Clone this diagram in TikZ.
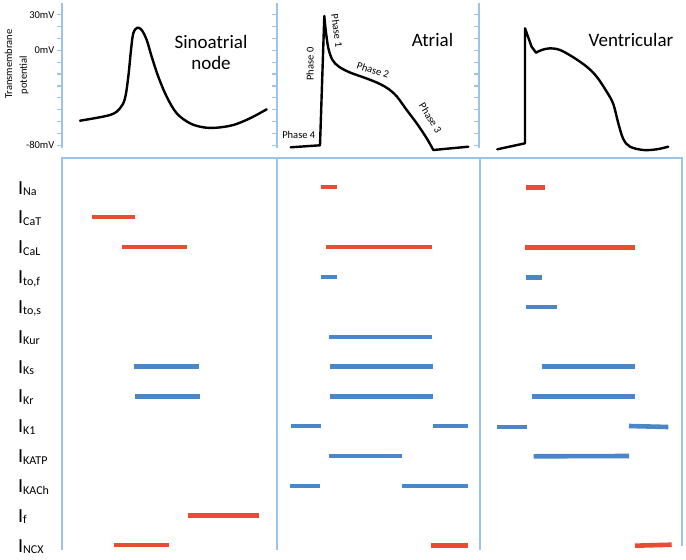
\documentclass[tikz,border=0pt]{standalone}
\usepackage{fontspec}
\setmainfont{Carlito}
\definecolor{axisblue}{RGB}{157,195,230}
\definecolor{barred}{RGB}{232,76,50}
\definecolor{barblue}{RGB}{74,134,200}
\newcommand\ionlab[1]{{\fontsize{20}{22}\selectfont I}\raisebox{-1.5pt}{\fontsize{12}{13}\selectfont #1}}
\begin{document}
\begin{tikzpicture}[x=1pt,y=-1pt,
 axisline/.style={draw=axisblue,line width=1.3pt},
 apcurve/.style={draw=black,line width=2.4pt,line join=round,line cap=round},
 redbar/.style={draw=barred,line width=4.6pt},
 bluebar/.style={draw=barblue,line width=4.6pt},
 titletext/.style={font=\fontsize{19}{22}\selectfont,anchor=base,inner sep=0pt},
 mvlab/.style={font=\fontsize{10.5}{12}\selectfont,anchor=east,inner sep=0pt},
 phaselab/.style={font=\fontsize{10.5}{12}\selectfont,inner sep=0pt},
 ylab/.style={font=\fontsize{10.5}{12}\selectfont,inner sep=0pt,rotate=90},
 curlab/.style={anchor=base west,inner sep=0pt}]
\useasboundingbox (0,0) rectangle (686,560);

% top axes with ticks
\foreach \ax in {62,277,479}{
  \draw[axisline] (\ax,3) -- (\ax,148);
  \foreach \k in {0,...,11}{
    \draw[axisline] (\ax-5,14.7+11.87*\k) -- (\ax,14.7+11.87*\k);
  }
}
\node[mvlab] (l30) at (54.5,15) {30mV};
\node[mvlab] (l0) at (54.5,50.6) {0mV};
\node[mvlab] (l80) at (54.5,145.3) {-80mV};
\node[ylab] (ylab1) at (8.5,64) {Transmembrane};
\node[ylab] (ylab2) at (24,75) {potential};

% bottom panel boxes
\draw[axisline] (62,550) -- (62,158) -- (682,158) -- (682,546);
\draw[axisline] (277,158) -- (277,550);
\draw[axisline] (480,158) -- (480,550);

% titles
\node[titletext] (tsa1) at (211,48.3) {Sinoatrial};
\node[titletext] (tsa2) at (211,69) {node};
\node[titletext] (tat) at (432.5,46) {Atrial};
\node[titletext] (tve) at (631,46.5) {Ventricular};

% sinoatrial AP
\draw[apcurve] plot[smooth,tension=0.55] coordinates {(80,120.7) (110,115) (120,108.3) (125,98.3) (128.3,76.7) (131,50) (133.3,33.3) (137.3,27.7) (141.7,30) (146.7,40) (151.7,56.7) (158.3,76.7) (166.7,96.7) (176.7,113.3) (190,123.3) (203.3,127.3) (216.7,127.7) (233.3,125) (250,118.3) (266.7,109.3)};

% atrial AP
\draw[apcurve] (290.7,147.3) -- (320,145.3) -- (324.3,16) -- plot[smooth,tension=0.55] coordinates {(324.3,16) (325.7,30) (328.3,48) (332.5,60) (339,66.7) (350,72.5) (366.7,78.5) (380,84) (389,89.3) (397,96.7) (406.7,110) (416.7,123.3) (426.7,138.3) (433.3,150)} -- (468.3,146.7);

% ventricular AP
\draw[apcurve] (497.3,149.3) -- (525,143.3) -- (525,28.3) -- (531.5,46.5) -- (536,52.7) -- plot[smooth,tension=0.55] coordinates {(536,52.7) (541.7,50) (550,48.3) (560,50) (573.3,57.3) (586.7,66.7) (596.7,76.7) (606.7,91.7) (613.3,104) (618.3,123.3) (623.3,139) (630,146.7) (643.3,150) (656.7,149.3) (668.3,146.7)};

% phase labels
\node[phaselab] (p4) at (298.8,135) {Phase 4};
\node[phaselab,rotate=90] (p0) at (310,64) {Phase 0};
\node[phaselab,rotate=-82] (p1) at (337,30.5) {Phase 1};
\node[phaselab,rotate=-18] (p2) at (373,70) {Phase 2};
\node[phaselab,rotate=-58] (p3) at (430.5,118) {Phase 3};

% current labels
\foreach \n/\lab [count=\i from 0] in {na/Na,cat/CaT,cal/CaL,tof/{to,f},tos/{to,s},kur/Kur,ks/Ks,kr/Kr,kone/K1,katp/KATP,kach/KACh,f/f,ncx/NCX}{
  \node[curlab] (lab\n) at (18,187+29.85*\i+7) {\ionlab{\lab}};
}

% sinoatrial bars
\draw[redbar] (92.3,217) -- (135,217);
\draw[redbar] (122.3,247) -- (187.3,247);
\draw[bluebar] (134,366.5) -- (199.3,366.5);
\draw[bluebar] (134.7,396.5) -- (200,396.5);
\draw[redbar] (187.7,515.5) -- (259,515.5);
\draw[redbar] (113.7,545) -- (169,545);

% atrial bars
\draw[redbar] (320.7,187) -- (336.7,187);
\draw[redbar] (325.7,247) -- (432,247);
\draw[bluebar] (320.7,277) -- (336.7,277);
\draw[bluebar] (329.3,337) -- (432,337);
\draw[bluebar] (330,366.5) -- (432.7,366.5);
\draw[bluebar] (330,396.5) -- (432.7,396.5);
\draw[bluebar] (290.7,426) -- (320.7,426);
\draw[bluebar] (432.7,426) -- (468.3,426);
\draw[bluebar] (328.7,456) -- (402.3,456);
\draw[bluebar] (290,486) -- (320.3,486);
\draw[bluebar] (402.3,486) -- (468.3,486);
\draw[redbar] (431,545.5) -- (468.3,545.5);

% ventricular bars
\draw[redbar] (525.7,187.3) -- (545.3,187.3);
\draw[redbar] (524.7,247.5) -- (635,247.5);
\draw[bluebar] (525.7,277.3) -- (541.7,277.3);
\draw[bluebar] (526.3,307) -- (557.3,307);
\draw[bluebar] (542,366.3) -- (635,366.3);
\draw[bluebar] (532.3,396.7) -- (635,396.7);
\draw[bluebar] (497.3,427) -- (527.3,427);
\draw[bluebar] (629,426) -- (668.3,427);
\draw[bluebar] (533.7,456.3) -- (629,456);
\draw[redbar] (635,545.7) -- (671.7,544.7);
\end{tikzpicture}
\end{document}
